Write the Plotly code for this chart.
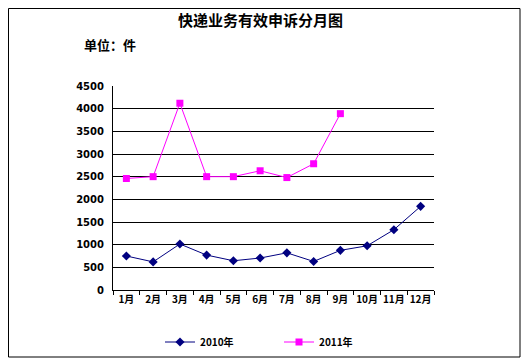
import plotly.graph_objects as go

months = ["1月", "2月", "3月", "4月", "5月", "6月", "7月", "8月", "9月", "10月", "11月", "12月"]
y2010 = [750, 620, 1015, 770, 645, 705, 820, 630, 875, 975, 1330, 1845]
months_2011 = months[:9]
y2011 = [2460, 2500, 4120, 2500, 2500, 2630, 2480, 2785, 3890]
yticks = [0, 500, 1000, 1500, 2000, 2500, 3000, 3500, 4000, 4500]

OFF = 8  # default page body margin
W, H = 529 - OFF, 363 - OFF
# plot area in page pixels -> figure pixels
L, R, T, B = 113 - OFF, 434 - OFF, 86 - OFF, 290 - OFF
pw, ph = R - L, B - T

def px(x):
    return (x - OFF - L) / pw

def py(y):
    return (B - (y - OFF)) / ph

def fx(x):  # figure pixel -> paper
    return (x - L) / pw

def fy(y):
    return (B - y) / ph

font_cjk = "Noto Sans CJK SC, DejaVu Sans, sans-serif"

fig = go.Figure()
fig.add_trace(go.Scatter(
    x=months, y=y2010, name="2010年", mode="lines+markers",
    line=dict(color="#000080", width=1),
    marker=dict(symbol="diamond", size=7, color="#000080"),
))
fig.add_trace(go.Scatter(
    x=months_2011, y=y2011, name="2011年", mode="lines+markers",
    line=dict(color="#FF00FF", width=1),
    marker=dict(symbol="square", size=7, color="#FF00FF"),
))

fig.update_layout(
    width=W, height=H,
    margin=dict(l=L, r=W - R, t=T, b=H - B, pad=0, autoexpand=False),
    paper_bgcolor="white", plot_bgcolor="white",
    font=dict(family=font_cjk, color="black", size=10),
    showlegend=True,
    legend=dict(
        orientation="h", x=px(160), y=py(342), xanchor="left", yanchor="middle",
        font=dict(size=10, family=font_cjk, weight="bold"),
        entrywidth=74, entrywidthmode="pixels",
        bgcolor="rgba(0,0,0,0)",
    ),
    xaxis=dict(
        type="category", categoryorder="array", categoryarray=months,
        range=[-0.5, 11.5], showgrid=False, showline=True, linecolor="black", linewidth=1,
        ticks="outside", tickson="boundaries", ticklen=4, tickcolor="black", tickangle=0,
        tickfont=dict(size=10, family=font_cjk, weight="bold"), zeroline=False,
    ),
    yaxis=dict(
        range=[0, 4500], tickvals=yticks, showgrid=True, gridcolor="black", gridwidth=1.3,
        showline=True, linecolor="black", linewidth=1, ticks="", zeroline=False,
        tickfont=dict(size=10, family="DejaVu Sans, sans-serif", weight="bold"),
        ticklabelstandoff=6,
    ),
    shapes=[dict(
        type="rect", xref="paper", yref="paper",
        x0=fx(0.5), x1=px(520), y0=py(357), y1=fy(0.5),
        line=dict(color="black", width=1), fillcolor="rgba(0,0,0,0)", layer="below",
    )],
    annotations=[
        dict(text="<b>快递业务有效申诉分月图</b>", xref="paper", yref="paper",
             x=px(260), y=py(19), xanchor="center", yanchor="middle", showarrow=False,
             font=dict(size=15, family=font_cjk), borderpad=0),
        dict(text="<b>单位：件</b>", xref="paper", yref="paper",
             x=px(82), y=py(44), xanchor="left", yanchor="middle", showarrow=False,
             font=dict(size=13, family=font_cjk)),
    ],
)

fig.write_html("out.html")
